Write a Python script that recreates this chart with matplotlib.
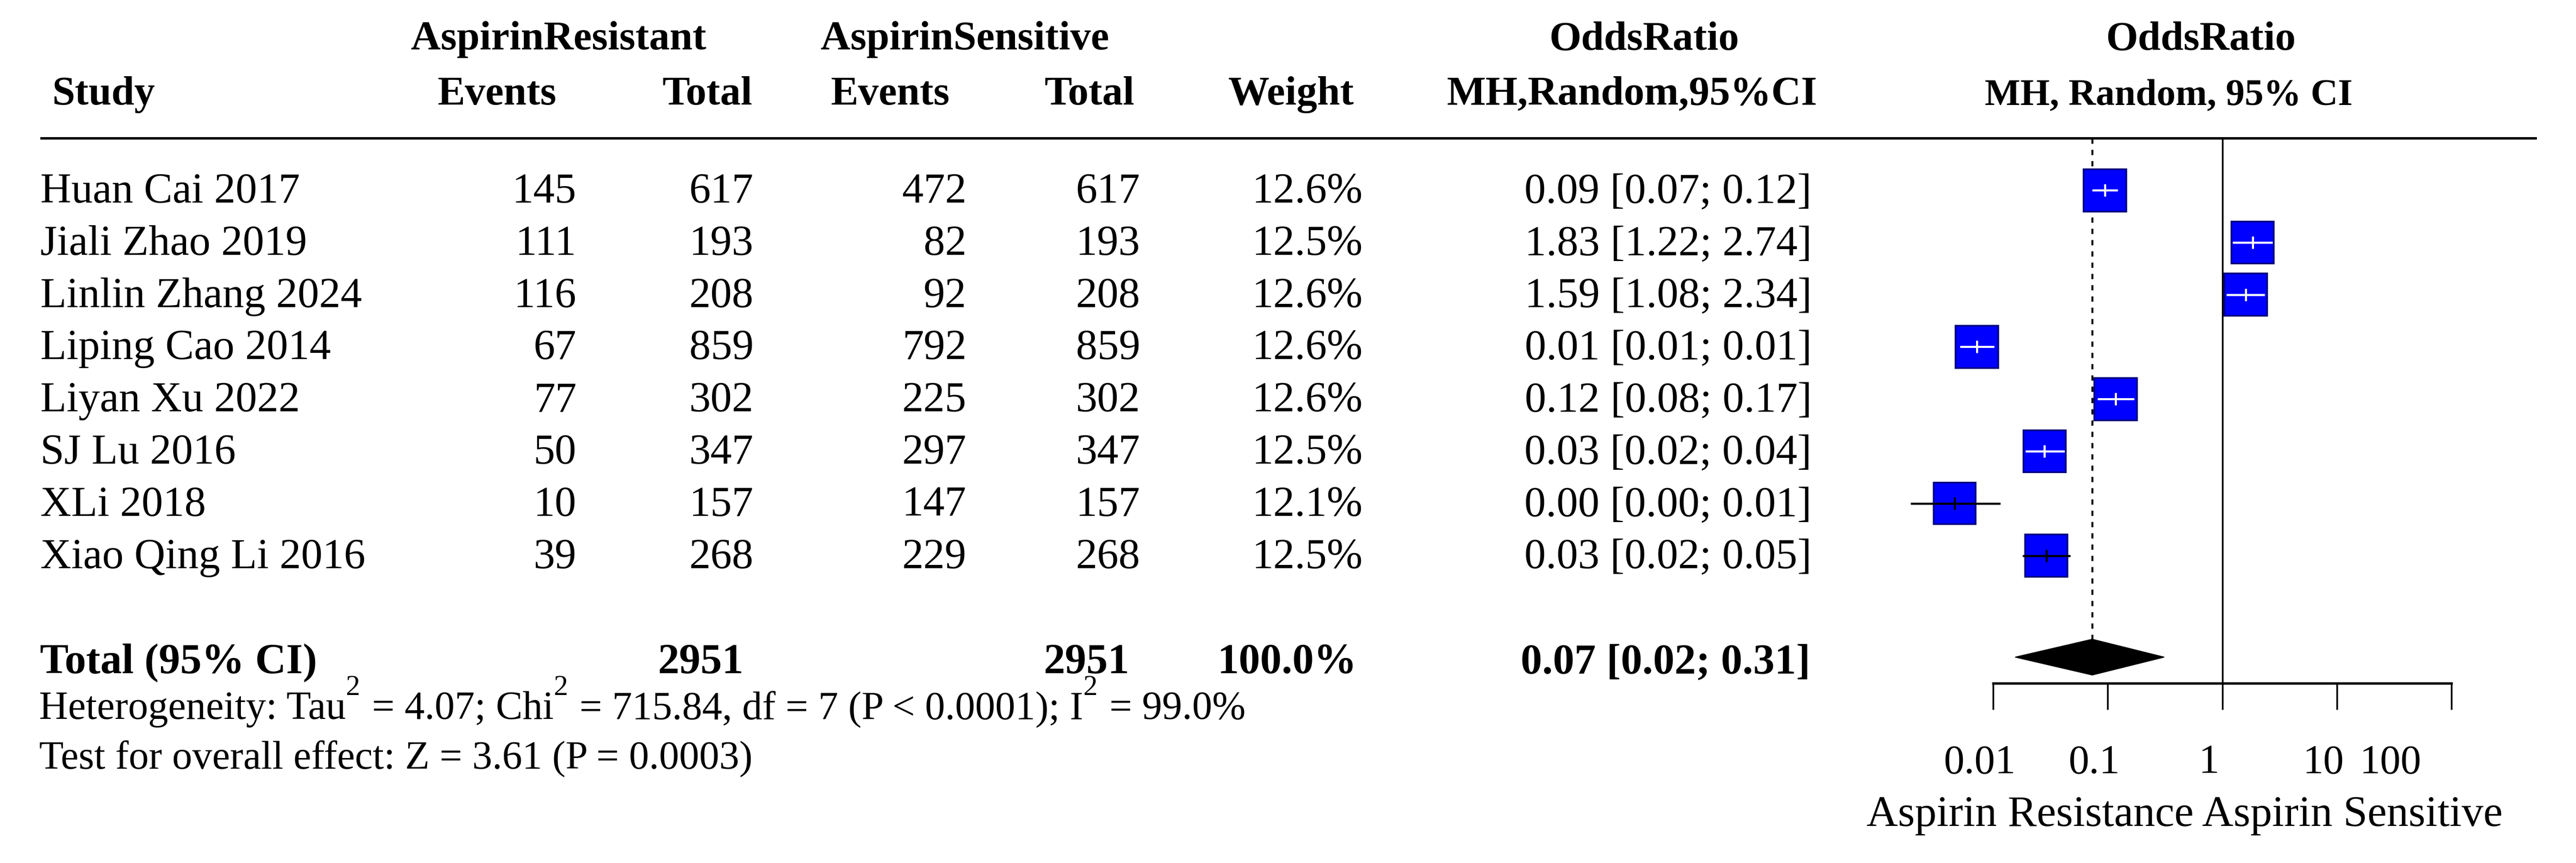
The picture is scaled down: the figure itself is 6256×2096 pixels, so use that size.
import numpy as np
import matplotlib
matplotlib.use("Agg")
import matplotlib.pyplot as plt
from matplotlib.patches import Rectangle, Polygon

plt.rcParams['font.family'] = ['Liberation Serif', 'DejaVu Serif']

# ---------------- data ----------------
studies = ["Huan Cai 2017", "Jiali Zhao 2019", "Linlin Zhang 2024", "Liping Cao 2014",
           "Liyan Xu 2022", "SJ Lu 2016", "XLi 2018", "Xiao Qing Li 2016"]
res_events = [145, 111, 116, 67, 77, 50, 10, 39]
res_total = [617, 193, 208, 859, 302, 347, 157, 268]
sen_events = [472, 82, 92, 792, 225, 297, 147, 229]
sen_total = [617, 193, 208, 859, 302, 347, 157, 268]
weights = [12.6, 12.5, 12.6, 12.6, 12.6, 12.5, 12.1, 12.5]
or_est = [0.094, 1.83, 1.59, 0.0072, 0.117, 0.028, 0.0046, 0.029]
or_low = [0.073, 1.22, 1.08, 0.0051, 0.081, 0.019, 0.0019, 0.018]
or_upp = [0.122, 2.74, 2.34, 0.0102, 0.169, 0.042, 0.0115, 0.047]
pooled_est, pooled_low, pooled_upp = 0.073, 0.0155, 0.31
pooled_weight = 100.0
# (text, is_superscript)
het_parts = [("Heterogeneity: Tau", False), ("2", True), (" = 4.07; Chi", False),
             ("2", True), (" = 715.84, df = 7 (P < 0.0001); I", False), ("2", True),
             (" = 99.0%", False)]
overall_text = "Test for overall effect: Z = 3.61 (P = 0.0003)"
ticks = [0.01, 0.1, 1, 10, 100]
tick_labels = ["0.01", "0.1", "1", "10", "100"]
xlabel = "Aspirin Resistance Aspirin Sensitive"

# ---------------- layout (pixels) ----------------
W, H, DPI = 6256, 2096, 100
fig = plt.figure(figsize=(W / DPI, H / DPI), dpi=DPI)
fig.patch.set_facecolor('white')

tab = fig.add_axes([0, 0, 1, 1])
tab.set_xlim(0, W)
tab.set_ylim(H, 0)
tab.axis('off')

AX_X0, AX_X1 = 4841, 5954       # pixel positions of 0.01 and 100
fx = fig.add_axes([AX_X0 / W, 0, (AX_X1 - AX_X0) / W, 1])
fx.set_xscale('log')
fx.set_xlim(ticks[0], ticks[-1])
fx.set_ylim(H, 0)
fx.axis('off')

ROW0, ROWH = 462, 126.8
BASE_OFF = 30
row_y = ROW0 + ROWH * np.arange(len(studies))
RULE_Y = 336
TOTAL_Y = 1596
TOTAL_BASE = 1635
HET_BASE, TEST_BASE = 1746, 1866
AXIS_Y, TICK_LEN = 1660, 64
TICKLAB_BASE, XLAB_BASE = 1877, 2006
TICKLAB_X = [4808, 5086, 5364, 5642, 5805]

FS = 75      # body text
FSH = 72     # header bold
FSS = 70     # footnote text
FSUP = 50    # superscripts
SUP_RAISE = 58

# ---------------- headers ----------------
hb = dict(fontsize=FSH, fontweight='bold', va='baseline')
tab.text(1357, 120, "AspirinResistant", ha='center', **hb)
tab.text(2343, 120, "AspirinSensitive", ha='center', **hb)
tab.text(3993, 120, "OddsRatio", ha='center', **hb)
tab.text(5345, 120, "OddsRatio", ha='center', **hb)
tab.text(127, 254, "Study", ha='left', **hb)
tab.text(1351, 254, "Events", ha='right', **hb)
tab.text(1827, 254, "Total", ha='right', **hb)
tab.text(2306, 254, "Events", ha='right', **hb)
tab.text(2755, 254, "Total", ha='right', **hb)
tab.text(3288, 254, "Weight", ha='right', **hb)
tab.text(3963, 254, "MH,Random,95%CI", ha='center', **hb)
tab.text(5267, 254, "MH, Random, 95% CI", ha='center', fontsize=66,
         fontweight='bold', va='baseline')

tab.plot([98, 6161], [RULE_Y, RULE_Y], color='black', lw=4.3, solid_capstyle='butt')

# ---------------- study rows ----------------
for i, name in enumerate(studies):
    yb = row_y[i] + BASE_OFF
    kw = dict(fontsize=FS, va='baseline')
    tab.text(98, yb, name, ha='left', **kw)
    tab.text(1400, yb, f"{res_events[i]}", ha='right', **kw)
    tab.text(1830, yb, f"{res_total[i]}", ha='right', **kw)
    tab.text(2347, yb, f"{sen_events[i]}", ha='right', **kw)
    tab.text(2769, yb, f"{sen_total[i]}", ha='right', **kw)
    tab.text(3310, yb, f"{weights[i]:.1f}%", ha='right', **kw)
    tab.text(4400, yb, f"{or_est[i]:.2f} [{or_low[i]:.2f}; {or_upp[i]:.2f}]", ha='right', **kw)

# total row
kb = dict(fontsize=FS, fontweight='bold', va='baseline')
tab.text(97, TOTAL_BASE, "Total (95% CI)", ha='left', **kb)
tab.text(1806, TOTAL_BASE, f"{sum(res_total)}", ha='right', **kb)
tab.text(2743, TOTAL_BASE, f"{sum(sen_total)}", ha='right', **kb)
tab.text(3295, TOTAL_BASE, f"{pooled_weight:.1f}%", ha='right', **kb)
tab.text(4397, TOTAL_BASE, f"{pooled_est:.2f} [{pooled_low:.2f}; {pooled_upp:.2f}]",
         ha='right', **kb)

# heterogeneity line with raised superscripts
renderer = fig.canvas.get_renderer()


def advance(s, size):
    t1 = tab.text(0, 0, "X" + s + "X", fontsize=size)
    t0 = tab.text(0, 0, "XX", fontsize=size)
    w = t1.get_window_extent(renderer).width - t0.get_window_extent(renderer).width
    t1.remove()
    t0.remove()
    return w


xcur = 95
for s, sup in het_parts:
    size = FSUP if sup else FSS
    yb = HET_BASE - (SUP_RAISE if sup else 0)
    tab.text(xcur, yb, s, ha='left', va='baseline', fontsize=size)
    xcur += advance(s, size) + (4 if sup else 0)

tab.text(95, TEST_BASE, overall_text, ha='left', va='baseline', fontsize=FSS)

# ---------------- forest panel ----------------
SQ_HALF_DEC = 0.187   # half side of square in decades
SQ_HALF_PX = 51.5     # half side of square in pixels
wmax = max(weights)
for i in range(len(studies)):
    y = row_y[i]
    e, lo, up = or_est[i], or_low[i], or_upp[i]
    s = np.sqrt(weights[i] / wmax)
    hw, hh = SQ_HALF_DEC * s, SQ_HALF_PX * s
    bx0, bx1 = e / 10 ** hw, e * 10 ** hw
    inside = (lo >= bx0) and (up <= bx1)
    col = 'white' if inside else 'black'
    fx.add_patch(Rectangle((bx0, y - hh), bx1 - bx0, 2 * hh, facecolor='#0000FF',
                           edgecolor='#00007A', lw=2.8, zorder=2, clip_on=False))
    fx.plot([lo, up], [y, y], color=col, lw=3.6, zorder=3, clip_on=False,
            solid_capstyle='butt')
    fx.plot([e, e], [y - 15, y + 15], color=col, lw=3.6, zorder=3, clip_on=False,
            solid_capstyle='butt')

# pooled diamond
DH = 43.5
fx.add_patch(Polygon([(pooled_low, TOTAL_Y), (pooled_est, TOTAL_Y - DH),
                      (pooled_upp, TOTAL_Y), (pooled_est, TOTAL_Y + DH)],
                     closed=True, facecolor='black', edgecolor='black', lw=1.5,
                     zorder=3, clip_on=False))

# reference lines
fx.plot([1, 1], [RULE_Y, AXIS_Y], color='black', lw=3, zorder=1, clip_on=False)
fx.plot([pooled_est, pooled_est], [RULE_Y, TOTAL_Y - DH], color='black', lw=3.4,
        dashes=(2.7, 3.1), zorder=1, clip_on=False)

# x axis
fx.plot([ticks[0], ticks[-1]], [AXIS_Y, AXIS_Y], color='black', lw=4.2,
        solid_capstyle='projecting', clip_on=False)
for t in ticks:
    fx.plot([t, t], [AXIS_Y, AXIS_Y + TICK_LEN], color='black', lw=3, clip_on=False,
            solid_capstyle='butt')
for xl, lab in zip(TICKLAB_X, tick_labels):
    tab.text(xl, TICKLAB_BASE, lab, ha='center', va='baseline', fontsize=72)
tab.text(5305, XLAB_BASE, xlabel, ha='center', va='baseline', fontsize=76)

fig.savefig("out.png", dpi=DPI, facecolor='white')
